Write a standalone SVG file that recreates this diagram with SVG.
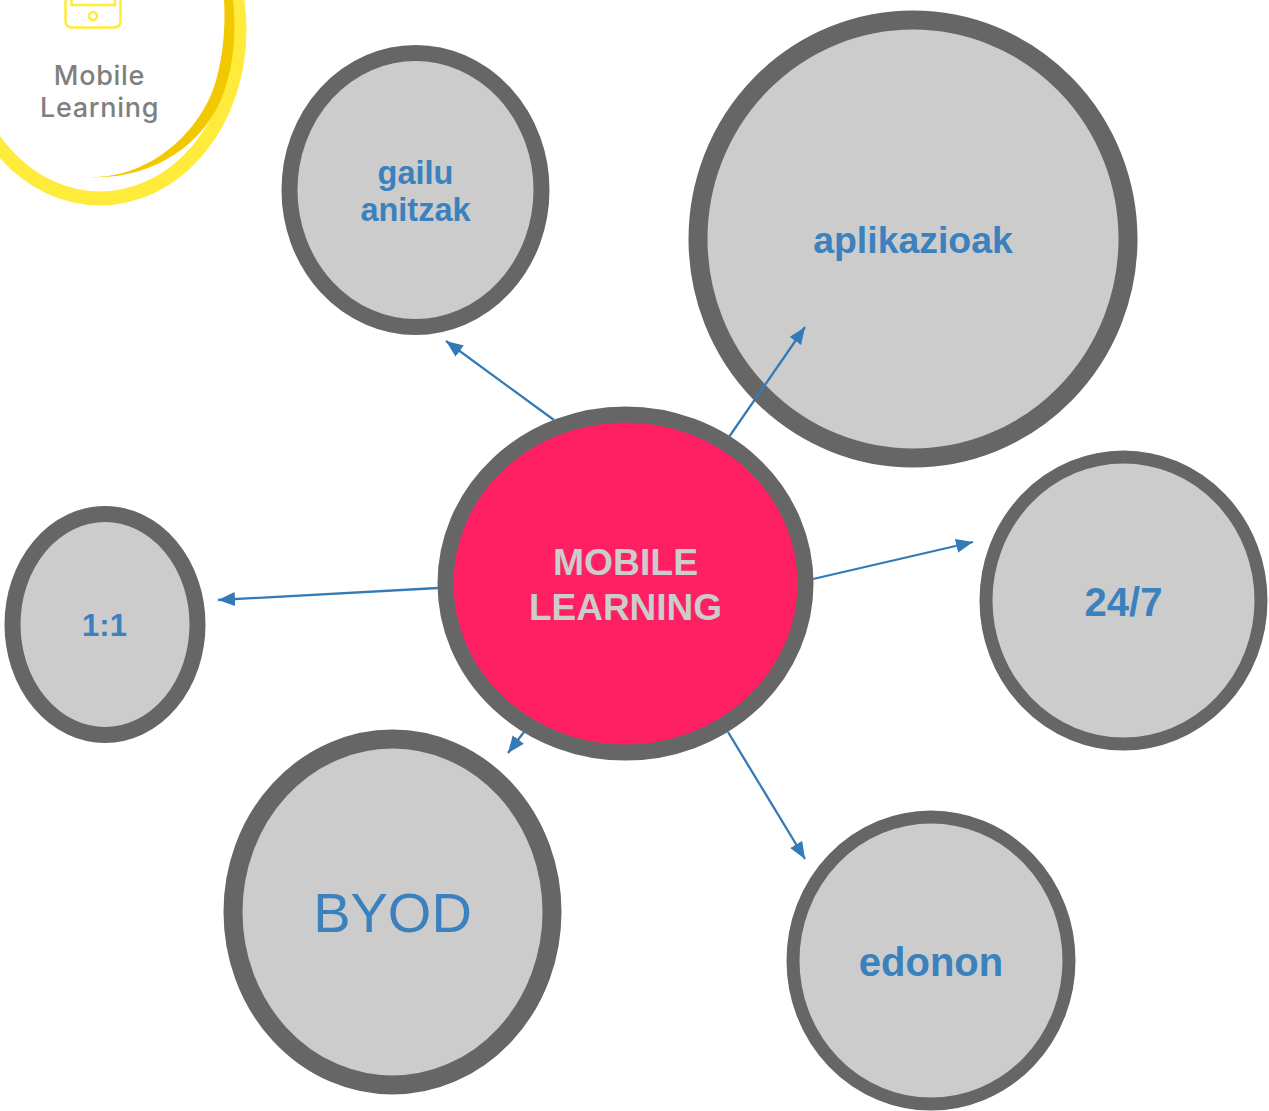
<svg xmlns="http://www.w3.org/2000/svg" width="1269" height="1111" viewBox="0 0 1269 1111">
<style>
.node{fill:#ccc;stroke:#666}
.label{font-family:"Liberation Sans",Arial,sans-serif;font-weight:700;fill:#3b81bd;text-anchor:middle}
.conn{stroke:#337ab7;stroke-width:2.300;fill:none;marker-end:url(#arrow)}
.logo{font-family:"Inter","Liberation Sans",sans-serif;font-size:27px;font-weight:500;letter-spacing:.7px;fill:#7f7f7f;text-anchor:middle}
</style>
<defs>
<marker id="arrow" markerUnits="userSpaceOnUse" markerWidth="19" markerHeight="16" refX="17" refY="7" orient="auto"><path d="M0 0L17 7L0 14Z" fill="#337ab7"/></marker>
</defs>
<rect width="1269" height="1111" fill="#fff"/>
<g id="logo">
<ellipse cx="100" cy="30" rx="139.500" ry="168.500" fill="none" stroke="#ffeb3b" stroke-width="14"/>
<path d="M90 177C150 178 196 134 213 90C222 66 226 30 224 0L233 0C236 30 235 60 224 92C205 146 150 180 90 177Z" fill="#f2c900"/>
<rect x="65.500" y="-20" width="55" height="47.500" rx="6" fill="none" stroke="#ffeb3b" stroke-width="2.500"/>
<path d="M71.500 -5V5H115V-5" fill="none" stroke="#ffeb3b" stroke-width="2.500"/>
<circle cx="93" cy="16" r="4" fill="none" stroke="#ffeb3b" stroke-width="2.500"/>
<text class="logo" x="99.500" y="85">Mobile</text>
<text class="logo" x="99.500" y="117">Learning</text>
</g>
<g id="node-gailu"><ellipse class="node" cx="415.500" cy="190" rx="126" ry="137" stroke-width="16"/>
<text class="label" font-size="32.500" x="415.500" y="184">gailu</text><text class="label" font-size="32.500" x="415.500" y="221">anitzak</text></g>
<g id="node-aplikazioak"><ellipse class="node" cx="913" cy="239" rx="215" ry="219" stroke-width="19"/>
<text class="label" font-size="37.400" x="913" y="253">aplikazioak</text></g>
<g id="node-247"><ellipse class="node" cx="1123.500" cy="600.500" rx="137.500" ry="143.500" stroke-width="13"/>
<text class="label" font-size="40" x="1123.500" y="616">24/7</text></g>
<g id="node-11"><ellipse class="node" cx="105" cy="624.500" rx="92.500" ry="110.500" stroke-width="16"/>
<text class="label" font-size="31" x="104.500" y="636">1:1</text></g>
<g id="node-byod"><ellipse class="node" cx="392.500" cy="912" rx="159.500" ry="173" stroke-width="19"/>
<text class="label" style="font-weight:400" font-size="56" x="392.500" y="932">BYOD</text></g>
<g id="node-edonon"><ellipse class="node" cx="931" cy="960.500" rx="138" ry="143.500" stroke-width="13"/>
<text class="label" font-size="40" x="931" y="976">edonon</text></g>
<g id="node-mobile"><ellipse cx="625.500" cy="583.500" rx="180" ry="169" fill="#ff2063" stroke="#666" stroke-width="16"/>
<text class="label" style="fill:#ccc" font-size="37.300" x="625.500" y="575">MOBILE</text><text class="label" style="fill:#ccc" font-size="37" x="625.500" y="620">LEARNING</text></g>
<g id="connectors">
<line class="conn" x1="554" y1="420" x2="446" y2="341"/>
<line class="conn" x1="729" y1="437" x2="805" y2="327"/>
<line class="conn" x1="813" y1="579" x2="973" y2="542"/>
<line class="conn" x1="438" y1="588" x2="218" y2="600"/>
<line class="conn" x1="524" y1="732" x2="508" y2="753"/>
<line class="conn" x1="728" y1="732" x2="805" y2="859"/>
</g>
</svg>
